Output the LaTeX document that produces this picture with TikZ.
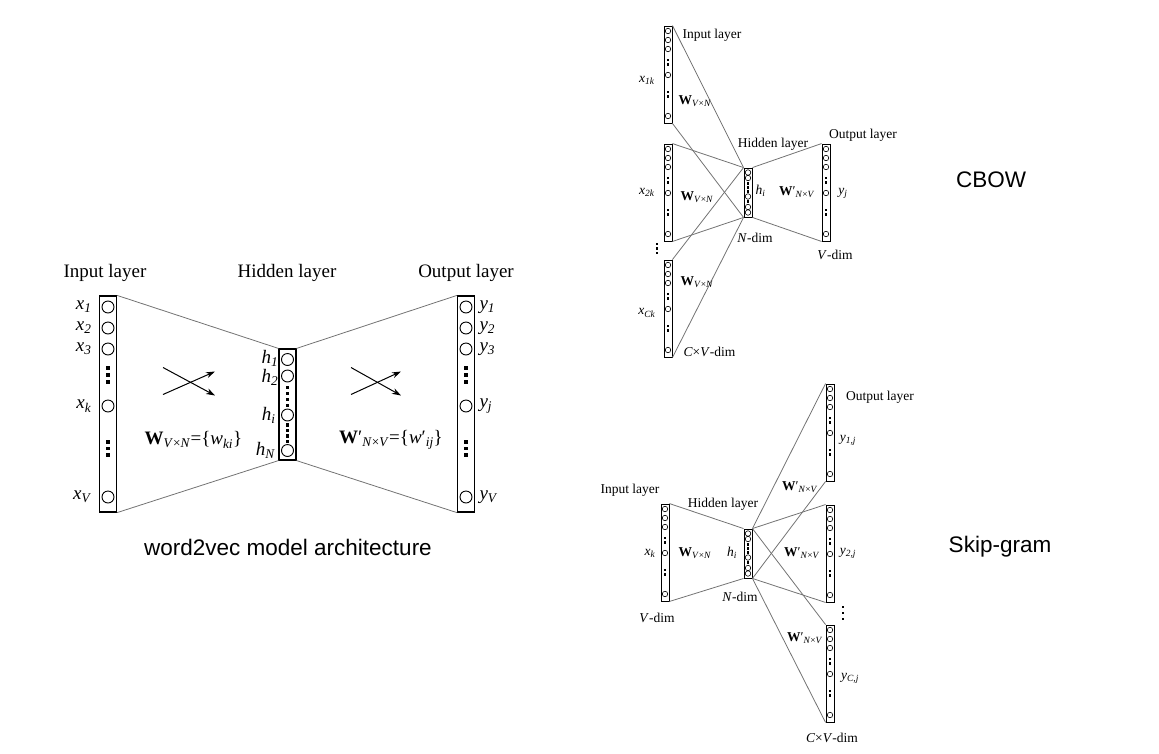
\documentclass[tikz,border=0pt]{standalone}
\usepackage{fontspec}
\usetikzlibrary{arrows.meta}
\setmainfont{Liberation Serif}
\newfontfamily\arial{Liberation Sans}
\newcommand\isub[2]{\textit{#1}\textsubscript{\textit{#2}}}
\newcommand\Wvn{\textbf{W}\textsubscript{\textit{V}×\textit{N}}}
\newcommand\Wnv{\textbf{W}′\textsubscript{\textit{N}×\textit{V}}}
\begin{document}
\begin{tikzpicture}[x=1pt,y=-1pt,>={Stealth[length=9pt,width=6pt]},
  bcol/.style={draw,line width=1.2pt,inner sep=0pt,fill=white,minimum width=17pt},
  scol/.style={draw,line width=0.9pt,inner sep=0pt,fill=white,minimum width=8pt,minimum height=97pt},
  hcol/.style={draw,line width=0.9pt,inner sep=0pt,fill=white,minimum width=8pt,minimum height=49pt},
  bcirc/.style={draw,circle,line width=0.9pt,inner sep=0pt,minimum size=12pt},
  scirc/.style={draw,circle,line width=0.6pt,inner sep=0pt,minimum size=5.5pt},
  link/.style={draw=black!55,line width=0.8pt},
  big/.style={font=\fontsize{19}{22}\selectfont},
  sml/.style={font=\fontsize{13.5}{16}\selectfont},
  captxt/.style={font=\arial\fontsize{22.5}{26}\selectfont}]
\useasboundingbox (0,0) rectangle (1159,753);

% word2vec model
\node[bcol,minimum height=216pt](in) at (108,404){};
\node[bcol,minimum height=111pt](hid) at (287.5,404.5){};
\node[bcol,minimum height=216pt](out) at (466,404){};
\foreach \o [count=\n] in {11,32,53,110,201}{
  \node[bcirc](in\n) at (108,296+\o){};
  \node[bcirc](out\n) at (466,296+\o){};
}
\foreach \o in {72,79,86,146,152.5,159}{
  \fill (108-1.75,296+\o-1.75) rectangle ++(3.5,3.5);
  \fill (466-1.75,296+\o-1.75) rectangle ++(3.5,3.5);
}
\foreach \o [count=\n] in {10.5,27,66,101.5}
  \node[bcirc](hid\n) at (287.5,349+\o){};
\foreach \o in {38.5,44.5,50.5,56.5,76,81.5,87,92.5}
  \fill (287.5-1.75,349+\o-1.75) rectangle ++(3.5,3.5);

\draw[link](in.north east)--(hid.north west);
\draw[link](in.south east)--(hid.south west);
\draw[link](hid.north east)--(out.north west);
\draw[link](hid.south east)--(out.south west);

\node[big](tin) at (105,273){Input layer};
\node[big](thid) at (287,273){Hidden layer};
\node[big](tout) at (466,273){Output layer};
\node[big,anchor=east](x1) at (95,307){\isub{x}{1}};
\node[big,anchor=east](x2) at (95,328){\isub{x}{2}};
\node[big,anchor=east](x3) at (95,349){\isub{x}{3}};
\node[big,anchor=east](xk) at (95,406){\isub{x}{k}};
\node[big,anchor=east](xv) at (95,497){\isub{x}{V}};
\node[big,anchor=east,inner sep=0.5pt](h1) at (279,358.5){\isub{h}{1}};
\node[big,anchor=east,inner sep=0.5pt](h2) at (279,377){\isub{h}{2}};
\node[big,anchor=east](hi) at (279,415){\isub{h}{i}};
\node[big,anchor=east](hn) at (279,450.5){\isub{h}{N}};
\node[big,anchor=west](y1) at (476,307){\isub{y}{1}};
\node[big,anchor=west](y2) at (476,328){\isub{y}{2}};
\node[big,anchor=west](y3) at (476,349){\isub{y}{3}};
\node[big,anchor=west](yj) at (476,406){\isub{y}{j}};
\node[big,anchor=west](yv) at (476,497){\isub{y}{V}};
\node[big](w) at (193.5,440){\Wvn=\{\isub{w}{ki}\}};
\node[big](wp) at (391,440){\Wnv=\{\textit{w}′\textsubscript{\textit{ij}}\}};

\coordinate(a1) at (163,394.5); \coordinate(a2) at (215,371.5);
\coordinate(a3) at (163,367.5); \coordinate(a4) at (215,395.5);
\coordinate(b1) at (351,394.5); \coordinate(b2) at (401,371.5);
\coordinate(b3) at (351,367.5); \coordinate(b4) at (401,395.5);
\draw[->,line width=1pt](a1)--(a2);
\draw[->,line width=1pt](a3)--(a4);
\draw[->,line width=1pt](b1)--(b2);
\draw[->,line width=1pt](b3)--(b4);

\node[captxt](arch) at (288,547){word2vec model architecture};

% CBOW and Skip-gram
\foreach \nm/\x/\t in {ci1/668/26,ci2/668/144,ci3/668/260,co/826/144,
                       si/665/504,so1/830/384,so2/830/505,so3/830/625}{
  \node[scol](\nm) at (\x,\t+48.5){};
  \foreach \o [count=\n] in {5,14,23,49,90}
    \node[scirc](\nm-\n) at (\x,\t+\o){};
  \foreach \o in {34,38.5,66,70.5}
    \fill (\x-1.2,\t+\o-1.2) rectangle ++(2.4,2.4);
}
\foreach \nm/\t in {ch/168,sh/529}{
  \node[hcol](\nm) at (748,\t+24.5){};
  \foreach \o [count=\n] in {4.5,10,28.5,39,44.5}
    \node[scirc](\nm-\n) at (748,\t+\o){};
  \foreach \o in {15.5,19.5,23.5,33.5}
    \fill (748-1.2,\t+\o-1.2) rectangle ++(2.4,2.4);
}
\foreach \o in {244,248.5,253}
  \fill (657-1.4,\o-1.4) rectangle ++(2.8,2.8);
\foreach \o in {607,613,619}
  \fill (843-1.4,\o-1.4) rectangle ++(2.8,2.8);

\foreach \nm in {ci1,ci2,ci3}{
  \draw[link](\nm.north east)--(ch.north west);
  \draw[link](\nm.south east)--(ch.south west);
}
\draw[link](ch.north east)--(co.north west);
\draw[link](ch.south east)--(co.south west);
\draw[link](si.north east)--(sh.north west);
\draw[link](si.south east)--(sh.south west);
\foreach \nm in {so1,so2,so3}{
  \draw[link](sh.north east)--(\nm.north west);
  \draw[link](sh.south east)--(\nm.south west);
}

\node[sml,anchor=west](cin) at (679,35){Input layer};
\node[sml](cx1) at (647,80){\isub{x}{1k}};
\node[sml,anchor=west](cw1) at (675,101){\Wvn};
\node[sml](cx2) at (647,192){\isub{x}{2k}};
\node[sml](cw2) at (697,197){\Wvn};
\node[sml](cxc) at (647,313){\isub{x}{Ck}};
\node[sml](cw3) at (697,282){\Wvn};
\node[sml,anchor=west](ccv) at (680,352){\textit{C}×\textit{V}-dim};
\node[sml](chid) at (773,144){Hidden layer};
\node[sml,anchor=west](chi) at (752,191){\isub{h}{i}};
\node[sml](cwp) at (797,192){\Wnv};
\node[sml](cout) at (863,135){Output layer};
\node[sml](cyj) at (843,193){\isub{y}{j}};
\node[sml](cnd) at (755,238){\textit{N}-dim};
\node[sml](cvd) at (835,255){\textit{V}-dim};
\node[captxt](cbow) at (991,180){CBOW};

\node[sml](sin) at (630,490){Input layer};
\node[sml](sxk) at (650,553){\isub{x}{k}};
\node[sml](sw) at (695,553){\Wvn};
\node[sml](svd) at (657,618){\textit{V}-dim};
\node[sml](shid) at (723,504){Hidden layer};
\node[sml](shi) at (732,553){\isub{h}{i}};
\node[sml](snd) at (740,597){\textit{N}-dim};
\node[sml](sout) at (880,397){Output layer};
\node[sml](sy1) at (848,440){\isub{y}{1,j}};
\node[sml](sw1) at (800,487){\Wnv};
\node[sml](sy2) at (848,553){\isub{y}{2,j}};
\node[sml](sw2) at (802,553){\Wnv};
\node[sml](sw3) at (805,638){\Wnv};
\node[sml](syc) at (850,678){\isub{y}{C,j}};
\node[sml](scv) at (832,738){\textit{C}×\textit{V}-dim};
\node[captxt](skip) at (1000,547){Skip-gram};
\end{tikzpicture}
\end{document}
